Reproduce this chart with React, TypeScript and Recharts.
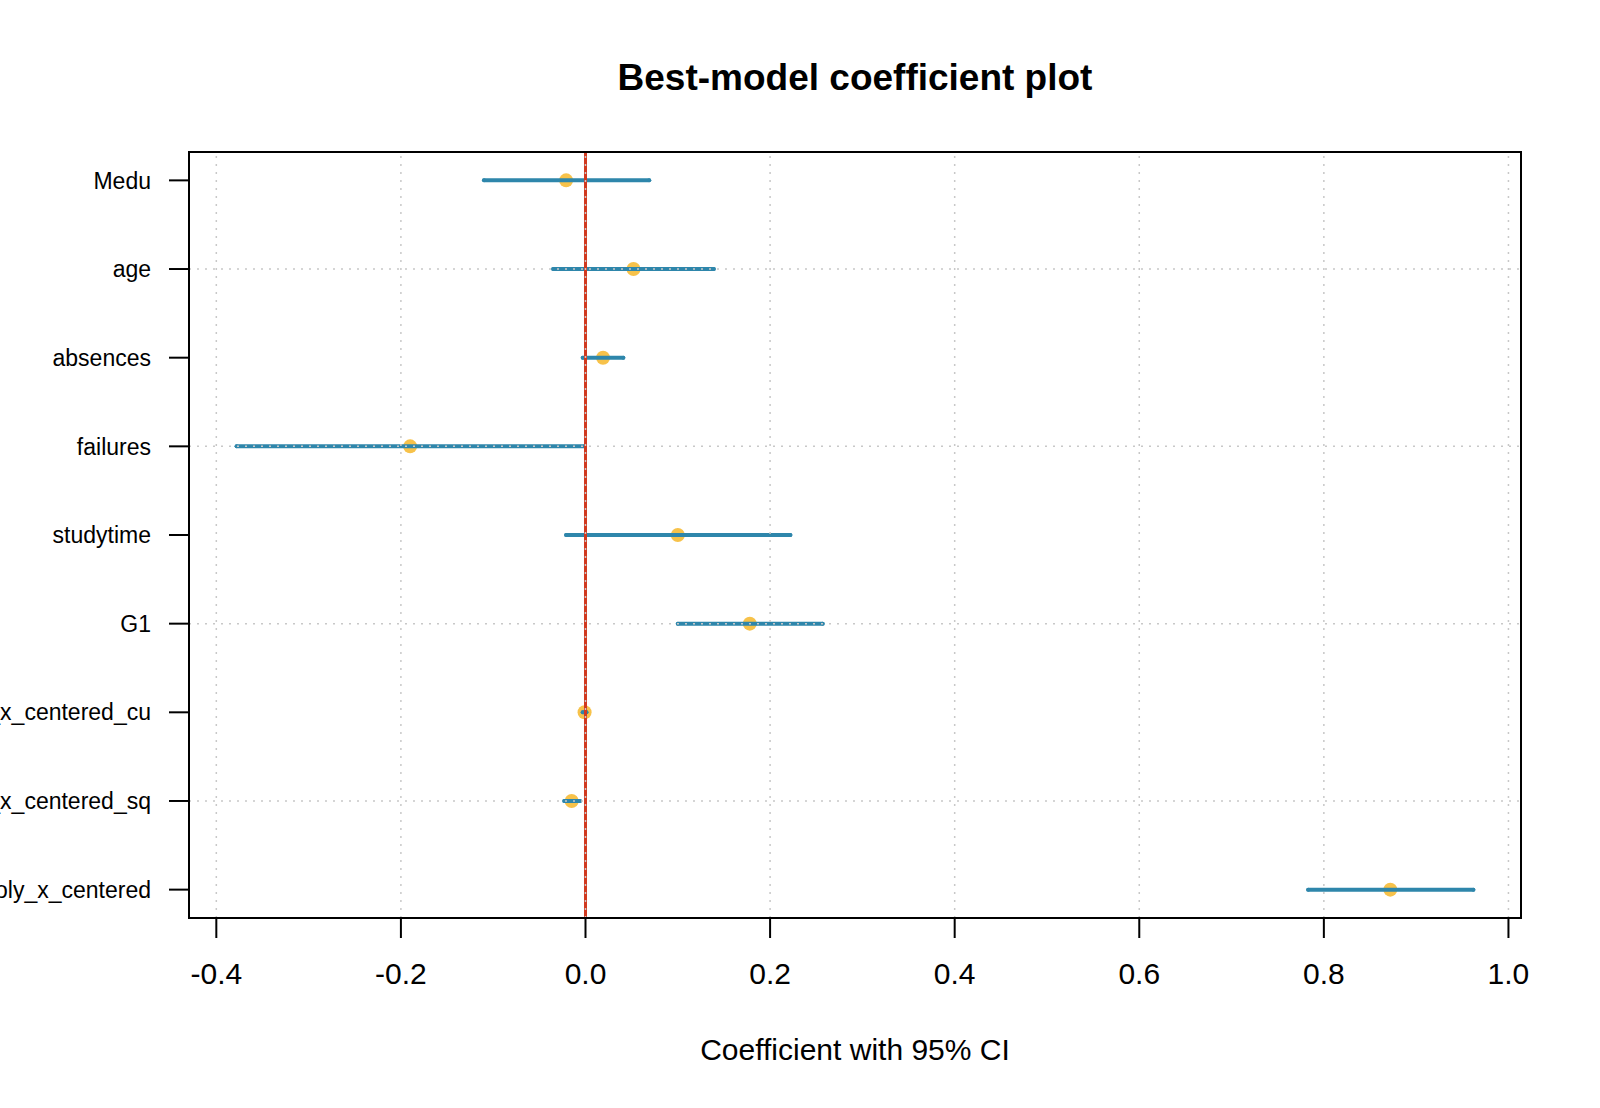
import React from 'react';
import {
    ScatterChart, Scatter, XAxis, YAxis, ErrorBar,
    ReferenceLine, ReferenceArea, Label
} from 'recharts';

// Model terms, top to bottom
const terms = [
    'Medu', 'age', 'absences', 'failures', 'studytime', 'G1',
    'poly_x_centered_cu', 'poly_x_centered_sq', 'poly_x_centered',
];
const estimates = [-0.021, 0.052, 0.019, -0.190, 0.100, 0.178, -0.001, -0.015, 0.872];
const lower = [-0.110, -0.035, -0.003, -0.378, -0.021, 0.100, -0.003, -0.023, 0.783];
const upper = [0.069, 0.139, 0.041, -0.001, 0.222, 0.257, 0.001, -0.006, 0.962];

const xTicks = [-0.4, -0.2, 0.0, 0.2, 0.4, 0.6, 0.8, 1.0];
const yTicks = [1, 2, 3, 4, 5, 6, 7, 8, 9];
const yGridRows = [2, 4, 6, 8];

// R-style 4% padding on both axes
const X_MIN = -0.4296;
const X_MAX = 1.0136;
const Y_MIN = 0.68;
const Y_MAX = 9.32;

const FONT = '"Liberation Sans", Arial, sans-serif';
const BLUE = '#2E86AB';
const YELLOW = '#F7C24A';
const RED = '#D1391F';
const GRID = '#c8c8c8';

const rows = terms.map((term, i) => ({
    term,
    y: i + 1,
    x: estimates[i],
    err: [estimates[i] - lower[i], upper[i] - estimates[i]],
}));

export default function App() {
    return (
        <div style={{ position: 'absolute', left: 0, top: 0, width: 1600, height: 1108, background: '#fff', fontFamily: FONT }}>
            <div style={{
                position: 'absolute', left: 0, width: 1710, top: 59, textAlign: 'center',
                fontSize: 37, lineHeight: '37px', fontWeight: 'bold', color: '#000', zIndex: 2,
            }}>
                Best-model coefficient plot
            </div>

            <ScatterChart width={1600} height={1108} margin={{ top: 152, right: 79, bottom: 0, left: 0 }}>
                <XAxis
                    type="number"
                    dataKey="x"
                    domain={[X_MIN, X_MAX]}
                    ticks={xTicks}
                    interval={0}
                    allowDataOverflow
                    height={190}
                    tickFormatter={(v: number) => v.toFixed(1)}
                    tick={{ fontSize: 30, fill: '#000', fontFamily: FONT }}
                    tickLine={{ stroke: '#000', strokeWidth: 2 }}
                    tickSize={20}
                    tickMargin={25}
                    axisLine={false}
                >
                    <Label
                        value="Coefficient with 95% CI"
                        position="insideBottom"
                        offset={48}
                        style={{ fontSize: 30, fill: '#000', fontFamily: FONT }}
                    />
                </XAxis>
                <YAxis
                    type="number"
                    dataKey="y"
                    reversed
                    domain={[Y_MIN, Y_MAX]}
                    ticks={yTicks}
                    interval={0}
                    allowDataOverflow
                    width={189}
                    tickFormatter={(v: number) => terms[v - 1] ?? ''}
                    tick={{ fontSize: 23, fill: '#000', fontFamily: FONT }}
                    tickLine={{ stroke: '#000', strokeWidth: 2 }}
                    tickSize={20}
                    tickMargin={18}
                    axisLine={false}
                />

                {/* points first, CI segments drawn over them */}
                <Scatter
                    data={rows}
                    isAnimationActive={false}
                    zIndex={600}
                    shape={(p: any) => <circle cx={p.cx} cy={p.cy} r={7} fill={YELLOW} />}
                />
                <Scatter
                    data={rows}
                    isAnimationActive={false}
                    zIndex={610}
                    shape={() => <g />}
                >
                    <ErrorBar
                        dataKey="err"
                        direction="x"
                        width={0}
                        stroke={BLUE}
                        strokeWidth={4}
                        strokeLinecap="round"
                        zIndex={610}
                        isAnimationActive={false}
                    />
                </Scatter>

                <ReferenceLine x={0} stroke={RED} strokeWidth={3} zIndex={620} />

                {/* grid() is drawn last in the original, on top of the marks */}
                {xTicks.map((v) => (
                    <ReferenceLine key={'gx' + v} x={v} stroke={GRID} strokeWidth={1.5} strokeDasharray="2 6" zIndex={630} />
                ))}
                {yGridRows.map((v) => (
                    <ReferenceLine key={'gy' + v} y={v} stroke={GRID} strokeWidth={1.5} strokeDasharray="2 6" zIndex={630} />
                ))}

                <ReferenceArea
                    x1={X_MIN} x2={X_MAX} y1={Y_MIN} y2={Y_MAX}
                    fill="none" fillOpacity={0}
                    stroke="#000" strokeWidth={2}
                    ifOverflow="visible"
                    zIndex={640}
                />
            </ScatterChart>
        </div>
    );
}
